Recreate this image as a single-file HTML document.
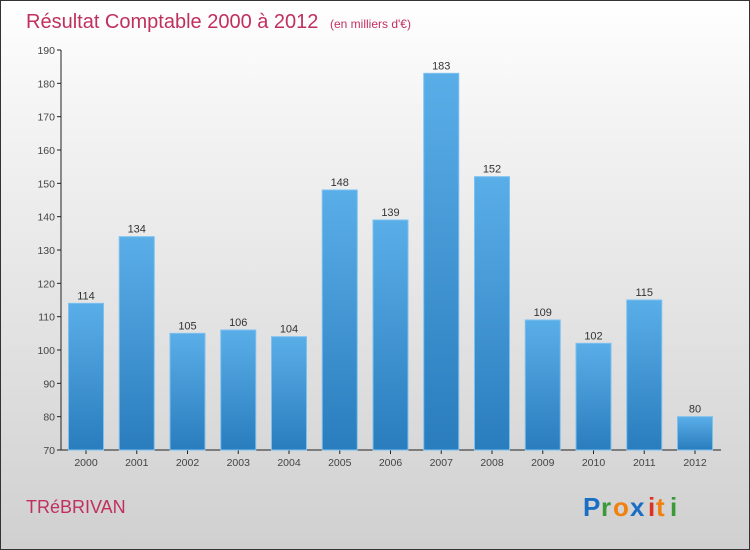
<!DOCTYPE html>
<html><head><meta charset="utf-8"><style>
body{margin:0;width:750px;height:550px;overflow:hidden;font-family:"Liberation Sans",sans-serif}
#wrap{position:absolute;left:0;top:0;width:748px;height:548px;border:1px solid #333;background:linear-gradient(#ffffff,#f4f4f4 20%,#d0d0d0)}
</style></head><body>
<div id="wrap">
<svg width="750" height="550" style="position:absolute;left:-1px;top:-1px">
<defs><linearGradient id="bg" x1="0" y1="0" x2="0" y2="1"><stop offset="0" stop-color="#5aaee8"/><stop offset="1" stop-color="#2a7dbd"/></linearGradient></defs>
<text x="26" y="28" font-size="20" fill="#c0305e">Résultat Comptable 2000 à 2012 <tspan font-size="12" dx="6">(en milliers d'€)</tspan></text>
<g id="ax"></g><g id="bars"></g>
<text x="26" y="513" font-size="18" fill="#c0305e">TRéBRIVAN</text>
<g font-size="26" font-weight="bold">
<text x="583" y="516" fill="#1a6fc4">P</text><text x="601" y="516" fill="#3a9a3a">r</text><text x="613" y="516" fill="#f08010">o</text><text x="630" y="516" fill="#1a6fc4">x</text><text x="648" y="516" fill="#e03020">i</text><text x="656" y="516" fill="#f08010">t</text><text x="670" y="516" fill="#3a9a3a">i</text></g>
</svg></div>
<script>
const years=["2000","2001","2002","2003","2004","2005","2006","2007","2008","2009","2010","2011","2012"];
const values=[114,134,105,106,104,148,139,183,152,109,102,115,80];
const ticks=[70,80,90,100,110,120,130,140,150,160,170,180,190];
const NS="http://www.w3.org/2000/svg";
const y=v=>450-(v-70)*400/120, x=i=>86+i*50.75;
const ax=document.getElementById('ax'), bg=document.getElementById('bars');
function mk(t,a,p,txt){const e=document.createElementNS(NS,t);for(const k in a)e.setAttribute(k,a[k]);if(txt!=null)e.textContent=txt;p.appendChild(e);return e;}
let l=mk('line',{x1:61,y1:50,x2:61,y2:450,stroke:'#222'},ax);


l=mk('line',{x1:61,y1:450,x2:721,y2:450,stroke:'#222'},ax);


ticks.forEach(t=>{mk('line',{x1:57,y1:y(t),x2:61,y2:y(t),stroke:'#222'},ax);
const e=mk('text',{x:55,y:y(t)+4,'text-anchor':'end','font-size':10.5,fill:'#444'},ax,t);

});
years.forEach((yr,i)=>{const c=x(i),v=values[i];
const r=mk('rect',{x:c-17.5,y:y(v),width:35,height:450-y(v),fill:'url(#bg)',stroke:'#7cc0f0','stroke-width':1},bg);


const t=mk('text',{x:c,y:y(v)-4,'text-anchor':'middle','font-size':11,fill:'#333'},bg,v);


mk('line',{x1:c,y1:450,x2:c,y2:454,stroke:'#222'},ax);
const xl=mk('text',{x:c,y:466,'text-anchor':'middle','font-size':10.5,fill:'#444'},ax,yr);

});
</script>
</body></html>
